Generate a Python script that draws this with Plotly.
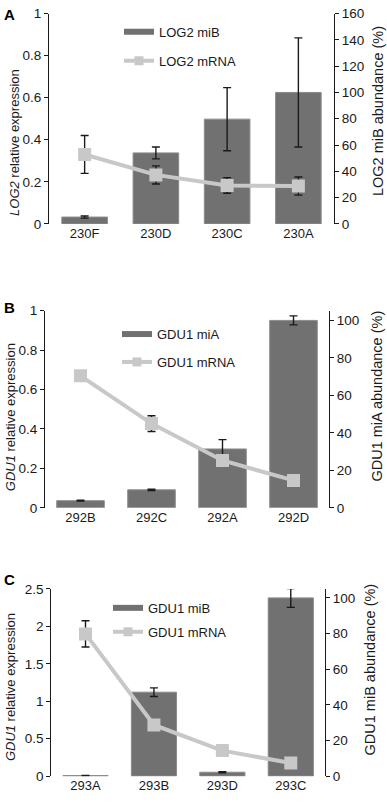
import plotly.graph_objects as go

W, H = 387, 807

# ---------------- data ----------------
cats_a = ["230F", "230D", "230C", "230A"]
mib_a = [5.2, 54.0, 79.7, 100.0]
mib_a_err = [0.8, 4.5, 24.0, 41.5]
mrna_a = [0.33, 0.233, 0.183, 0.18]
mrna_a_err = [0.09, 0.043, 0.037, 0.043]

cats_b = ["292B", "292C", "292A", "292D"]
mia_b = [3.8, 9.6, 31.4, 100.0]
mia_b_err = [0.2, 0.35, 5.0, 2.4]
mrna_b = [0.669, 0.427, 0.24, 0.139]
mrna_b_err = [0.01, 0.04, 0.01, 0.01]

cats_c = ["293A", "293B", "293D", "293C"]
mib_c = [0.3, 47.1, 2.2, 100.0]
mib_c_err = [0.1, 2.4, 0.3, 5.3]
mrna_c = [1.90, 0.683, 0.341, 0.175]
mrna_c_err = [0.175, 0.02, 0.02, 0.02]

# ---------------- style ----------------
FONT = "Liberation Sans, Arial, sans-serif"
TXT = "#1a1a1a"
BAR = "#717171"
BAR_EDGE = "#8c8c8c"
LINE = "#c8c8c8"
ERR = "#1a1a1a"

panels = [
    dict(letter="A", cats=cats_a, bar=mib_a, bar_err=mib_a_err, line=mrna_a, line_err=mrna_a_err,
         bar_name="LOG2 miB", line_name="LOG2 mRNA",
         ltitle="<i>LOG2</i> relative expression", rtitle="LOG2 miB abundance (%)",
         lrange=[0, 1], ldtick=0.2, rrange=[0, 160], rdtick=20,
         px_x=(49, 334), px_y=(6.7, 221), bw=0.64,
         leg=(119, 10), gap=9, letter_y=8,
         lt_pos=(15, 138.5), rt_pos=(378, 106)),
    dict(letter="B", cats=cats_b, bar=mia_b, bar_err=mia_b_err, line=mrna_b, line_err=mrna_b_err,
         bar_name="GDU1 miA", line_name="GDU1 mRNA",
         ltitle="<i>GDU1</i> relative expression", rtitle="GDU1 miA abundance (%)",
         lrange=[0, 1], ldtick=0.2, rrange=[0, 105.26], rdtick=20,
         px_x=(45, 329), px_y=(309.3, 510.3), bw=0.67,
         leg=(117, 318), gap=8, letter_y=306,
         lt_pos=(10, 418), rt_pos=(377, 397)),
    dict(letter="C", cats=cats_c, bar=mib_c, bar_err=mib_c_err, line=mrna_c, line_err=mrna_c_err,
         bar_name="GDU1 miB", line_name="GDU1 mRNA",
         ltitle="<i>GDU1</i> relative expression", rtitle="GDU1 miB abundance (%)",
         lrange=[0, 2.5], ldtick=0.5, rrange=[0, 105], rdtick=20,
         px_x=(51.3, 325), px_y=(593, 783.7), bw=0.66,
         leg=(108, 597), gap=4, letter_y=583,
         lt_pos=(10, 693), rt_pos=(370, 675)),
]

fig = go.Figure()
layout = dict(
    width=W, height=H, autosize=False,
    margin=dict(l=0, r=0, t=0, b=0),
    paper_bgcolor="white", plot_bgcolor="white",
    font=dict(family=FONT, size=13, color=TXT),
    showlegend=True,
    annotations=[],
)

for i, p in enumerate(panels):
    n = i + 1
    xa = "x" if n == 1 else f"x{n}"
    yb_idx = 2 * i + 1
    yl_idx = 2 * i + 2
    yb = "y" if yb_idx == 1 else f"y{yb_idx}"
    yl = f"y{yl_idx}"
    leg = "legend" if n == 1 else f"legend{n}"

    fig.add_trace(go.Bar(
        x=p["cats"], y=p["bar"], xaxis=xa, yaxis=yb, width=p["bw"],
        marker=dict(color=BAR, line=dict(color=BAR_EDGE, width=1)),
        error_y=dict(type="data", array=p["bar_err"], color=ERR, thickness=1.4, width=4),
        showlegend=False, name=p["bar_name"],
    ))
    fig.add_trace(go.Scatter(
        x=p["cats"], y=p["line"], xaxis=xa, yaxis=yl, mode="lines+markers",
        line=dict(color=LINE, width=4),
        marker=dict(symbol="square", size=13, color=LINE),
        error_y=dict(type="data", array=p["line_err"], color=ERR, thickness=1.4, width=4),
        showlegend=False, name=p["line_name"],
    ))
    # legend entries
    fig.add_trace(go.Scatter(
        x=[None], y=[None], xaxis=xa, yaxis=yl, mode="lines",
        line=dict(color=BAR, width=6), name=p["bar_name"], legend=leg,
        legendgroup=f"b{n}", showlegend=True,
    ))
    fig.add_trace(go.Scatter(
        x=[None], y=[None], xaxis=xa, yaxis=yl, mode="lines+markers",
        line=dict(color=LINE, width=4), marker=dict(symbol="square", size=9, color=LINE),
        name=p["line_name"], legend=leg, legendgroup=f"l{n}", showlegend=True,
    ))

    x0, x1 = p["px_x"]
    ytop, ybot = p["px_y"]
    xdom = [x0 / W, x1 / W]
    ydom = [1 - ybot / H, 1 - ytop / H]

    xkey = "xaxis" if n == 1 else f"xaxis{n}"
    ybkey = "yaxis" if yb_idx == 1 else f"yaxis{yb_idx}"
    ylkey = f"yaxis{yl_idx}"

    layout[xkey] = dict(
        domain=xdom, anchor=yb, type="category", showline=False, ticks="",
        showgrid=False, zeroline=False, tickfont=dict(size=13, color=TXT),
        fixedrange=True,
    )
    layout[ybkey] = dict(
        domain=ydom, anchor=xa, side="right", range=p["rrange"], dtick=p["rdtick"], tick0=0,
        showline=True, linecolor=TXT, linewidth=1, ticks="outside", ticklen=4,
        tickcolor=TXT, showgrid=False, zeroline=False, tickfont=dict(size=13.5, color=TXT),
    )
    layout[ylkey] = dict(
        overlaying=yb, anchor=xa, side="left", range=p["lrange"], dtick=p["ldtick"], tick0=0,
        showline=True, linecolor=TXT, linewidth=1, ticks="outside", ticklen=4,
        tickcolor=TXT, showgrid=False, zeroline=False, tickfont=dict(size=13.5, color=TXT),
    )
    lx, ly = p["leg"]
    layout[leg] = dict(
        x=lx / W, y=1 - ly / H, xanchor="left", yanchor="top", xref="paper", yref="paper",
        bgcolor="rgba(0,0,0,0)", borderwidth=0, font=dict(size=13, color=TXT),
        itemwidth=30, traceorder="grouped", tracegroupgap=p["gap"],
    )
    layout["annotations"].append(dict(
        text=f"<b>{p['letter']}</b>", x=2 / W, y=1 - p["letter_y"] / H, xref="paper", yref="paper",
        xanchor="left", yanchor="middle", showarrow=False, font=dict(size=15, color="#000"),
    ))
    # axis titles
    ltx, lty = p["lt_pos"]
    rtx, rty = p["rt_pos"]
    layout["annotations"].append(dict(
        text=p["ltitle"], x=ltx / W, y=1 - lty / H, xref="paper", yref="paper",
        xanchor="center", yanchor="middle", textangle=-90, showarrow=False,
        font=dict(size=13, color=TXT),
    ))
    layout["annotations"].append(dict(
        text=p["rtitle"], x=rtx / W, y=1 - rty / H, xref="paper", yref="paper",
        xanchor="center", yanchor="middle", textangle=-90, showarrow=False,
        font=dict(size=14.5, color=TXT),
    ))

fig.update_layout(**layout)

fig.write_html("out.html", config={"displayModeBar": False},
               post_script="document.body.style.margin='0';document.body.style.overflow='hidden';")
